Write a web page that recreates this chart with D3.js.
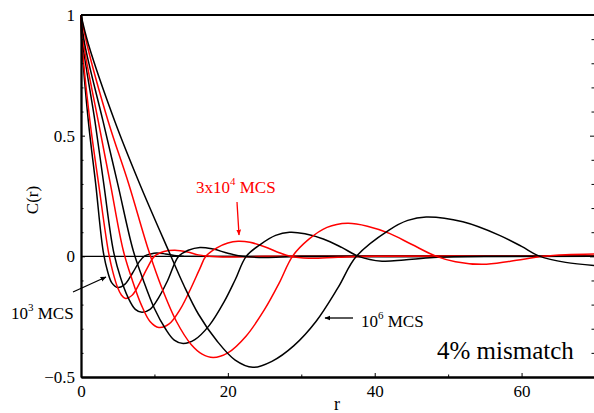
<!DOCTYPE html>
<html>
<head>
<meta charset="utf-8">
<script src="https://cdn.jsdelivr.net/npm/d3@7"></script>
<style>
  body { margin: 0; background: #fff; }
  svg { display: block; }
  text { font-family: "Times New Roman", Times, "Liberation Serif", serif; }
</style>
</head>
<body>
<div id="chart-area"></div>
<script>
// Chart values: [r, C(r)]
const curve1e3 = [[0,1],[0.12,0.88],[1.0,0.56],[2.0,0.3],[3.0,0.025],[3.6,-0.06],[4.2,-0.11],[5.0,-0.129],[6,-0.115],[7,-0.07],[8,-0.02],[8.6,0],[9.5,0.01],[10.3,0.014],[11.5,0.01],[13,0.002],[14,0],[70,0]];
const curve3e3 = [[0,1],[0.15,0.88],[1.22,0.56],[2.4,0.3],[3.7,0.025],[4.3,-0.06],[5.0,-0.13],[5.5,-0.16],[6.0,-0.174],[7,-0.16],[8,-0.11],[9,-0.05],[10,0],[11.3,0.02],[12.8,0.025],[14.5,0.018],[16,0.006],[17.5,0],[20,-0.003],[25,0],[70,0]];
const curve1e4 = [[0,1],[0.25,0.88],[1.9,0.56],[3.1,0.3],[4.4,0.025],[5.4,-0.09],[6.4,-0.17],[7.4,-0.22],[8.3,-0.232],[9.4,-0.22],[10.6,-0.17],[11.8,-0.1],[13.3,0],[14.6,0.025],[16.2,0.037],[18,0.03],[20,0.013],[22,0],[25,-0.005],[30,0],[70,0]];
const curve3e4 = [[0,1],[0.35,0.88],[2.35,0.56],[4.0,0.3],[5.75,0.025],[7,-0.1],[8.2,-0.2],[9.4,-0.27],[10.6,-0.295],[12,-0.28],[13.5,-0.22],[15,-0.13],[16.2,-0.05],[17,0],[18.5,0.035],[20,0.055],[21.4,0.062],[23,0.058],[25,0.04],[27,0.015],[28.5,0],[31,-0.008],[35,-0.004],[40,0],[70,0]];
const curve1e5 = [[0,1],[0.5,0.88],[3.0,0.56],[5.0,0.3],[7.1,0.025],[8.5,-0.1],[10,-0.216],[11.5,-0.3],[12.7,-0.347],[13.9,-0.361],[15.5,-0.345],[17.5,-0.285],[19.5,-0.188],[21,-0.097],[22.5,0],[24.5,0.051],[26.5,0.087],[28.4,0.1],[30.5,0.094],[33,0.072],[35.5,0.037],[37.8,0],[41,-0.02],[44,-0.015],[48,-0.005],[55,0],[70,0]];
const curve3e5 = [[0,1],[0.8,0.88],[3.7,0.56],[6.5,0.3],[9.2,0.025],[11,-0.13],[13,-0.27],[15,-0.365],[16.5,-0.405],[18,-0.419],[20,-0.4],[22.5,-0.33],[25,-0.22],[27,-0.11],[28.8,0],[31,0.07],[33.5,0.12],[36.3,0.137],[39,0.125],[42,0.095],[45,0.05],[48.4,0],[51,-0.022],[54.7,-0.033],[58.5,-0.02],[62.9,0],[66,0.007],[70,0.01]];
const curve1e6 = [[0,1],[1,0.88],[4.6,0.56],[8,0.3],[11.9,0.025],[14,-0.12],[16,-0.24],[18.5,-0.35],[21,-0.43],[23.4,-0.46],[26,-0.435],[29,-0.37],[32,-0.27],[35,-0.13],[37.5,0],[42,0.11],[44.5,0.149],[47,0.163],[52,0.143],[57,0.087],[60,0.041],[62.5,0],[66,-0.025],[70,-0.038]];

const seriesList = [curve1e3, curve3e3, curve1e4, curve3e4, curve1e5, curve3e5, curve1e6];
const seriesColors = ["black", "red", "black", "red", "black", "red", "black"];

const xTicks = [0, 20, 40, 60];
const xMinorTicks = [10, 30, 50, 70];
const yTicks = [-0.5, 0, 0.5, 1];
const yMinorTicks = [-0.4, -0.3, -0.2, -0.1, 0.1, 0.2, 0.3, 0.4, 0.6, 0.7, 0.8, 0.9];

// SVG size
const W = 594, H = 413;
const margin = {top: 15, right: -1, bottom: 36, left: 81};
const width = W - margin.left - margin.right;
const height = H - margin.top - margin.bottom;

const svg = d3.select("#chart-area").append("svg")
    .attr("width", W)
    .attr("height", H);

const g = svg.append("g")
    .attr("transform", "translate(" + margin.left + "," + margin.top + ")");

const x = d3.scaleLinear().domain([0, 70]).range([0, width]);
const y = d3.scaleLinear().domain([-0.5, 1]).range([height, 0]);

// zero line
g.append("line")
    .attr("x1", x(0)).attr("x2", x(70))
    .attr("y1", y(0)).attr("y2", y(0))
    .attr("stroke", "black").attr("stroke-width", 1.2);

// curves
const line = d3.line()
    .x(d => x(d[0]))
    .y(d => y(d[1]))
    .curve(d3.curveCatmullRom.alpha(0.5));

g.selectAll("path.curve")
    .data(seriesList)
    .enter().append("path")
    .attr("class", "curve")
    .attr("d", line)
    .attr("fill", "none")
    .attr("stroke", (d, i) => seriesColors[i])
    .attr("stroke-width", 1.5);

// axes (ticks inside)
const serif = "'Times New Roman', Times, 'Liberation Serif', serif";
const xAxis = d3.axisBottom(x).tickValues(xTicks).tickSizeInner(-4).tickSizeOuter(0)
    .tickPadding(8).tickFormat(d3.format("d"));
const xAxisMinor = d3.axisBottom(x).tickValues(xMinorTicks).tickSizeInner(-2.5).tickSizeOuter(0).tickFormat("");
const yAxis = d3.axisLeft(y).tickValues(yTicks).tickSizeInner(-4).tickSizeOuter(0)
    .tickPadding(6).tickFormat(d => d === 0 || d === 1 ? d3.format("d")(d) : d3.format(".1f")(d));
const yAxisMinor = d3.axisLeft(y).tickValues(yMinorTicks).tickSizeInner(-2.5).tickSizeOuter(0).tickFormat("");
const yRight = d3.axisRight(y).tickValues(yTicks).tickSizeInner(-4).tickSizeOuter(0).tickFormat("");
const yRightMinor = d3.axisRight(y).tickValues(yMinorTicks).tickSizeInner(-2.5).tickSizeOuter(0).tickFormat("");

function styleAxis(sel) {
    sel.attr("font-family", serif);
    sel.select(".domain").attr("stroke", "black").attr("stroke-width", 1.8);
    sel.selectAll(".tick line").attr("stroke", "black").attr("stroke-width", 1);
    sel.selectAll(".tick text").attr("fill", "black")
        .style("font-family", serif).style("font-size", "17px");
}

g.append("g").attr("transform", "translate(0," + height + ")").call(xAxis).call(styleAxis);
g.append("g").attr("transform", "translate(0," + height + ")").call(xAxisMinor).call(styleAxis);
g.append("g").call(yAxis).call(styleAxis);
g.append("g").call(yAxisMinor).call(styleAxis);
g.append("g").attr("transform", "translate(" + (width - 1) + ",0)").call(yRight).call(styleAxis)
    .select(".domain").remove();
g.append("g").attr("transform", "translate(" + (width - 1) + ",0)").call(yRightMinor).call(styleAxis)
    .select(".domain").remove();

// top border
g.append("line")
    .attr("x1", 0).attr("x2", width)
    .attr("y1", 0).attr("y2", 0)
    .attr("stroke", "black").attr("stroke-width", 1.8);

// axis labels
svg.append("text")
    .attr("x", 337).attr("y", 410)
    .attr("text-anchor", "middle")
    .style("font-size", "18px")
    .text("r");

svg.append("text")
    .attr("transform", "translate(38,200) rotate(-90)")
    .attr("text-anchor", "middle")
    .style("font-size", "17px")
    .text("C(r)");

// arrows
svg.append("defs").selectAll("marker")
    .data(["black", "red"])
    .enter().append("marker")
    .attr("id", d => "head-" + d)
    .attr("viewBox", "0 0 10 10")
    .attr("refX", 9).attr("refY", 5)
    .attr("markerWidth", 6).attr("markerHeight", 6)
    .attr("markerUnits", "userSpaceOnUse")
    .attr("orient", "auto")
    .append("path")
    .attr("d", "M0,1 L10,5 L0,9 Z")
    .attr("fill", d => d);

function arrow(x1, y1, x2, y2, color) {
    svg.append("line")
        .attr("x1", x1).attr("y1", y1).attr("x2", x2).attr("y2", y2)
        .attr("stroke", color).attr("stroke-width", 1.3)
        .attr("marker-end", "url(#head-" + color + ")");
}

function mcsLabel(xp, yp, base, sup, color) {
    const t = svg.append("text")
        .attr("x", xp).attr("y", yp)
        .attr("fill", color)
        .style("font-size", "17px");
    t.append("tspan").text(base);
    t.append("tspan").attr("dy", -8).style("font-size", "11px").text(sup);
    t.append("tspan").attr("dy", 8).text(" MCS");
}

arrow(73, 292, 106, 277, "black");
mcsLabel(11, 319, "10", "3", "black");

arrow(353, 318, 325, 318, "black");
mcsLabel(361, 327, "10", "6", "black");

arrow(237, 202, 239, 235, "red");
mcsLabel(196, 193, "3x10", "4", "red");

svg.append("text")
    .attr("x", 437).attr("y", 359)
    .style("font-size", "25px")
    .text("4% mismatch");
</script>
</body>
</html>
